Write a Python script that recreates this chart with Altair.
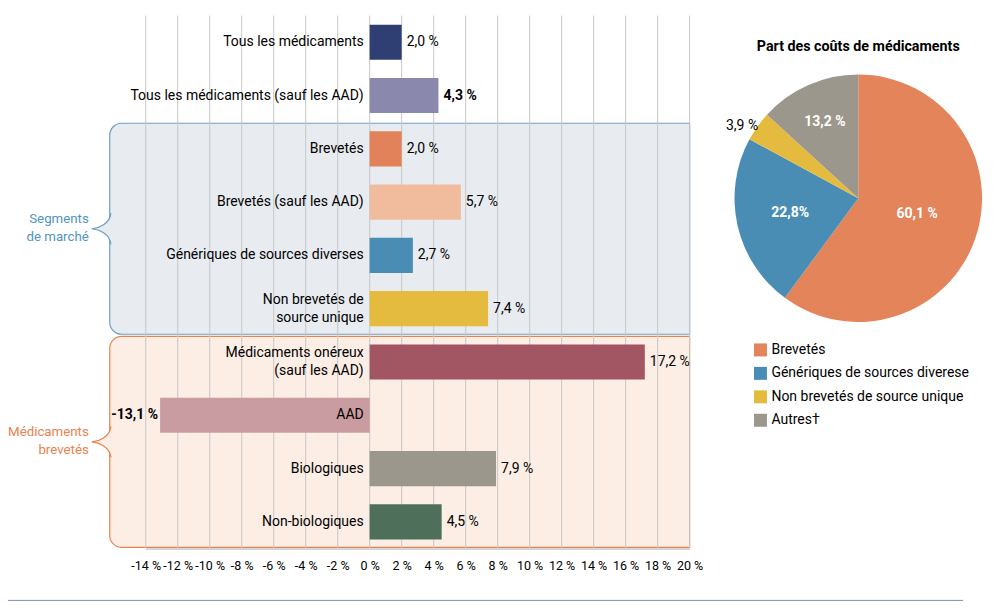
import altair as alt
import pandas as pd

# ---------------- data ----------------
CATEGORIES = [
    "Tous les médicaments",
    "Tous les médicaments (sauf les AAD)",
    "Brevetés",
    "Brevetés (sauf les AAD)",
    "Génériques de sources diverses",
    "Non brevetés de\nsource unique",
    "Médicaments onéreux\n(sauf les AAD)",
    "AAD",
    "Biologiques",
    "Non-biologiques",
]
VALUES = [2.0, 4.3, 2.0, 5.7, 2.7, 7.4, 17.2, -13.1, 7.9, 4.5]
BOLD_LABELS = ["Tous les médicaments (sauf les AAD)", "AAD"]

GROUPS = ["Segments\nde marché", "Médicaments\nbrevetés"]
GROUP_FIRST = [2, 6]
GROUP_LAST = [5, 9]

X_TICKS = list(range(-14, 21, 2))

PIE_TITLE = "Part des coûts de médicaments"
PIE_SEGMENTS = ["Brevetés", "Génériques de sources diverese",
                "Non brevetés de source unique", "Autres\u2020"]
PIE_SHARES = [60.1, 22.8, 3.9, 13.2]
PIE_LABELS = ["60,1 %", "22,8%", "3,9 %", "13,2 %"]

# ---------------- styles ----------------
BAR_COLORS = ["#2f3f74", "#8a88ac", "#e2825a", "#f1bc9e", "#4a8db4",
              "#e4bb3f", "#a25563", "#c99ca1", "#9b978c", "#4e705b"]
GROUP_FILL = ["#e8ecf0", "#fcede5"]
GROUP_STROKE = ["#6b9fc6", "#e8834f"]
GROUP_TEXT = ["#4f95c0", "#e8834f"]
PIE_COLORS = ["#e3845a", "#4a8db4", "#e4bb3f", "#9c978d"]
PIE_LABEL_RADIUS = [60, 70, 138, 83]
PIE_LABEL_DX = [2, 0, -4, 0]
PIE_LABEL_DY = [-3, 0, 8, 0]
PIE_LABEL_COLOR = ["white", "white", "black", "white"]
PIE_LABEL_WEIGHT = ["bold", "bold", "normal", "bold"]
FONT = "Roboto"
GRID = "#c8c8c8"
BOX_LEFT = -16.25
LINE_H = 18

XS = alt.Scale(domain=[-14, 20], nice=False, zero=False)
YS = alt.Scale(domain=[-0.5, 9.5], nice=False, zero=False, reverse=True)
XAXIS = dict(values=X_TICKS, labelExpr="datum.value + ' %'", grid=False, ticks=False,
             domainColor=GRID, domainWidth=1.5, labelFont=FONT, labelFontSize=12.5,
             labelColor="black", labelOverlap=False, labelPadding=11,
             labelFlush=False, title=None)


def X(field):
    return alt.X(field, scale=XS, axis=alt.Axis(**XAXIS))


def Y(field):
    return alt.Y(field, scale=YS, axis=None)


bars = pd.DataFrame({
    "cat": CATEGORIES,
    "row": list(range(len(CATEGORIES))),
    "value": VALUES,
})
bars["label"] = [f"{v:.1f}".replace(".", ",") + " %" for v in VALUES]
bars["bold"] = [c in BOLD_LABELS for c in CATEGORIES]
bars["multi"] = ["\n" in c for c in CATEGORIES]
bars["y0"] = bars["row"] - 0.33
bars["y1"] = bars["row"] + 0.33
bars["zero"] = 0.0

groups = pd.DataFrame({
    "group": GROUPS,
    "first": GROUP_FIRST,
    "last": GROUP_LAST,
})
groups["y0"] = groups["first"] - 0.48
groups["y1"] = groups["last"] + 0.48
groups["mid"] = (groups["first"] + groups["last"]) / 2
groups["x0"] = BOX_LEFT
groups["x1"] = 20.0

grid = pd.DataFrame({"tick": X_TICKS, "top": -0.5, "bottom": 9.5})

pie = pd.DataFrame({
    "segment": PIE_SEGMENTS,
    "share": PIE_SHARES,
    "idx": list(range(len(PIE_SEGMENTS))),
})

misc = pd.DataFrame({"t": [PIE_TITLE]})

layers = []

# group boxes
for i in range(len(GROUPS)):
    g = groups.iloc[[i]]
    box = alt.Chart(g).mark_rect(
        fill=GROUP_FILL[i], stroke=GROUP_STROKE[i], strokeWidth=1.2,
        cornerRadiusTopLeft=12, cornerRadiusBottomLeft=12,
    ).encode(x=X("x0:Q"), x2="x1:Q", y=Y("y0:Q"), y2="y1:Q")
    tip = alt.Chart(g).mark_point(
        shape="M 0.1 -1.3 C 0 -0.4 -0.9 -0.05 -1.5 0 C -0.9 0.05 0 0.4 0.1 1.3",
        size=576, fill=GROUP_FILL[i], stroke=GROUP_STROKE[i], strokeWidth=1.2,
        opacity=1, fillOpacity=1, strokeOpacity=1,
    ).encode(x=X("x0:Q"), y=Y("mid:Q"))
    lab = alt.Chart(g).mark_text(
        align="right", baseline="middle", dx=-21, dy=-LINE_H / 2 - 1, font=FONT,
        fontSize=13.3, color=GROUP_TEXT[i], lineBreak="\n", lineHeight=LINE_H,
    ).encode(x=X("x0:Q"), y=Y("mid:Q"), text="group:N")
    layers += [box, tip, lab]

# grid lines
layers.append(alt.Chart(grid).mark_rule(color=GRID, strokeWidth=1).encode(
    x=X("tick:Q"), y=Y("top:Q"), y2="bottom:Q"))

# bars, one layer per bar colour
for cat, col in zip(CATEGORIES, BAR_COLORS):
    layers.append(alt.Chart(bars[bars["cat"] == cat]).mark_rect(color=col).encode(
        x=X("value:Q"), x2="zero:Q", y=Y("y0:Q"), y2="y1:Q"))

# category labels (single-line and two-line)
for multi in (False, True):
    layers.append(alt.Chart(bars[bars["multi"] == multi]).mark_text(
        align="right", baseline="middle", dx=-6, dy=-LINE_H / 2 if multi else 0,
        font=FONT, fontSize=14, color="black", lineBreak="\n", lineHeight=LINE_H,
    ).encode(x=X("zero:Q"), y=Y("row:Q"), text="cat:N"))

# value labels
for neg in (False, True):
    for bold in (False, True):
        sub = bars[(bars["value"] < 0) == neg]
        sub = sub[sub["bold"] == bold]
        if len(sub) == 0:
            continue
        layers.append(alt.Chart(sub).mark_text(
            align="right" if neg else "left", baseline="middle",
            dx=-2 if neg else 5, font=FONT, fontSize=14, color="black",
            fontWeight="bold" if bold else "normal",
        ).encode(x=X("value:Q"), y=Y("row:Q"), text="label:N"))

# pie
CX, CY = 714, 183
layers.append(alt.Chart(pie).mark_arc(outerRadius=124).encode(
    theta=alt.Theta("share:Q", stack=True),
    color=alt.Color("segment:N",
                    scale=alt.Scale(domain=PIE_SEGMENTS, range=PIE_COLORS),
                    legend=alt.Legend(orient="none", legendX=609, legendY=328,
                                      title=None, symbolType="square",
                                      symbolSize=169, symbolStrokeWidth=0,
                                      labelFont=FONT, labelFontSize=14,
                                      labelColor="black", rowPadding=9.5,
                                      labelLimit=400, padding=0)),
    order=alt.Order("idx:Q"),
    x=alt.value(CX),
    y=alt.value(CY),
))
for k in range(len(PIE_SEGMENTS)):
    pk = pie.copy()
    pk["lab"] = [PIE_LABELS[k] if j == k else "" for j in range(len(pie))]
    layers.append(alt.Chart(pk).mark_text(
        font=FONT, fontSize=14, fontWeight=PIE_LABEL_WEIGHT[k],
        color=PIE_LABEL_COLOR[k], align="center", baseline="middle",
        radius=PIE_LABEL_RADIUS[k], dx=PIE_LABEL_DX[k], dy=PIE_LABEL_DY[k],
    ).encode(
        theta=alt.Theta("share:Q", stack=True),
        text="lab:N",
        order=alt.Order("idx:Q"),
        x=alt.value(CX),
        y=alt.value(CY),
    ))

layers.append(alt.Chart(misc).mark_text(
    font=FONT, fontSize=14.3, fontWeight="bold", color="black",
    align="center", baseline="middle",
).encode(text="t:N", x=alt.value(CX), y=alt.value(31)))

layers.append(alt.Chart(misc).mark_rule(color="#7890aa", strokeWidth=1).encode(
    x=alt.value(-141), x2=alt.value(819), y=alt.value(586)))

chart = alt.layer(*layers).properties(
    width=545, height=534,
    padding={"left": 138, "top": 7, "right": 299, "bottom": 55},
    autosize=alt.AutoSizeParams(type="none"),
).configure_view(stroke=None)

chart.save("out.html", embed_options={"renderer": "svg", "actions": False})
